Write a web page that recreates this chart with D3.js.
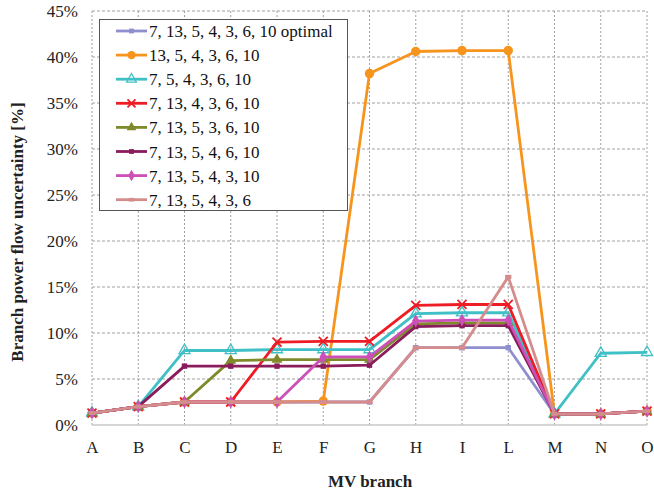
<!DOCTYPE html>
<html><head><meta charset="utf-8">
<script src="https://cdn.jsdelivr.net/npm/d3@7"></script>
<style>body{margin:0;background:#fff}svg{display:block}</style>
</head><body><svg id="c" width="654" height="492" font-family="Liberation Serif"></svg>
<script>
const categories = ["A","B","C","D","E","F","G","H","I","L","M","N","O"];
const yTicks = [0,5,10,15,20,25,30,35,40,45];
const seriesNames = ["7, 13, 5, 4, 3, 6, 10 optimal","13, 5, 4, 3, 6, 10","7, 5, 4, 3, 6, 10","7, 13, 4, 3, 6, 10","7, 13, 5, 3, 6, 10","7, 13, 5, 4, 6, 10","7, 13, 5, 4, 3, 10","7, 13, 5, 4, 3, 6"];
const seriesColors = ["#8f8fd0","#f7941d","#3fc0c6","#ee1c25","#7f8a2a","#8b1c5c","#cc50b8","#d48c8c"];
const seriesMarkers = ["square","circle","triangleOpen","cross","triangle","square","diamond","dash"];
const sOptimal = [1.3,2.0,2.5,2.5,2.5,2.5,2.5,8.4,8.4,8.4,1.2,1.2,1.5];
const s13 = [1.3,2.0,2.5,2.5,2.5,2.6,38.2,40.6,40.7,40.7,1.2,1.2,1.5];
const s7_5 = [1.3,2.0,8.1,8.1,8.2,8.2,8.2,12.1,12.2,12.2,1.2,7.8,7.9];
const s7_13_4 = [1.3,2.0,2.5,2.5,9.0,9.1,9.1,13.0,13.1,13.1,1.2,1.2,1.5];
const s7_13_5_3 = [1.3,2.0,2.5,7.0,7.1,7.1,7.1,11.0,11.1,11.1,1.2,1.2,1.5];
const s7_13_5_4_6 = [1.3,2.0,6.4,6.4,6.4,6.4,6.5,10.7,10.8,10.8,1.2,1.2,1.5];
const s7_13_5_4_3_10 = [1.3,2.0,2.5,2.5,2.5,7.4,7.4,11.3,11.4,11.4,1.2,1.2,1.5];
const s7_13_5_4_3_6 = [1.3,2.0,2.5,2.5,2.5,2.5,2.5,8.4,8.4,16.1,1.2,1.2,1.5];
const seriesValues = [sOptimal,s13,s7_5,s7_13_4,s7_13_5_3,s7_13_5_4_6,s7_13_5_4_3_10,s7_13_5_4_3_6];

const FONT = "Liberation Serif";
const svg = d3.select("#c");
const L=92,R=647,T=11,B=425;
const x = d3.scalePoint().domain(categories).range([L,R]).padding(0);
const y = d3.scaleLinear().domain([0,45]).range([B,T]);

// grid
const g = svg.append("g");
g.selectAll("line.h").data(yTicks.filter(d=>d>0)).join("line")
 .attr("x1",L).attr("x2",R).attr("y1",d=>y(d)).attr("y2",d=>y(d))
 .attr("stroke","#a0a0a0").attr("stroke-width",1).attr("stroke-dasharray","3,2");
g.selectAll("line.v").data(categories).join("line")
 .attr("x1",d=>x(d)).attr("x2",d=>x(d)).attr("y1",T).attr("y2",B)
 .attr("stroke","#a0a0a0").attr("stroke-width",1).attr("stroke-dasharray","2,2");
svg.append("line").attr("x1",L).attr("x2",R).attr("y1",B).attr("y2",B).attr("stroke","#c8c8c8").attr("stroke-width",1.5);

const yAxis = d3.axisLeft(y).tickValues(yTicks).tickFormat(d=>d+"%").tickSize(0).tickPadding(14);
const ya = svg.append("g").attr("transform",`translate(${L},0)`).call(yAxis).attr("font-family",FONT).attr("font-size",17);
ya.select(".domain").remove();
ya.selectAll("text").attr("fill","#222");
const xAxis = d3.axisBottom(x).tickSize(0).tickPadding(16);
const xa = svg.append("g").attr("transform",`translate(0,${B})`).call(xAxis).attr("font-family",FONT).attr("font-size",17);
xa.select(".domain").remove();
xa.selectAll("text").attr("fill","#222");

svg.append("text").attr("x",370).attr("y",487).attr("text-anchor","middle").attr("font-family",FONT)
 .attr("font-size",17).attr("font-weight","bold").attr("fill","#222").text("MV branch");
svg.append("text").attr("transform","translate(23,232) rotate(-90)").attr("text-anchor","middle").attr("font-family",FONT)
 .attr("font-size",17).attr("font-weight","bold").attr("fill","#222").text("Branch power flow uncertainty  [%]");

function drawMarker(sel, type, color, size){
  const s=size;
  if(type==="square") sel.append("rect").attr("x",-s*0.6).attr("y",-s*0.6).attr("width",s*1.2).attr("height",s*1.2).attr("fill",color);
  else if(type==="circle") sel.append("circle").attr("r",s*1.05).attr("fill",color);
  else if(type==="triangleOpen") sel.append("path").attr("d",d3.symbol(d3.symbolTriangle,s*s*2.6)()).attr("fill","none").attr("stroke",color).attr("stroke-width",1.3);
  else if(type==="triangle") sel.append("path").attr("d",d3.symbol(d3.symbolTriangle,s*s*2.6)()).attr("fill",color);
  else if(type==="cross") sel.append("path").attr("d",`M${-s},${-s}L${s},${s}M${-s},${s}L${s},${-s}`).attr("stroke",color).attr("stroke-width",1.8);
  else if(type==="diamond") sel.append("path").attr("d",d3.symbol(d3.symbolDiamond,s*s*2.4)()).attr("fill",color);
  else if(type==="dash") sel.append("rect").attr("x",-s*0.7).attr("y",-s*0.45).attr("width",s*1.4).attr("height",s*0.9).attr("fill",color);
}

const line = d3.line().x((d,i)=>x(categories[i])).y(d=>y(d));
seriesValues.forEach((vals,k)=>{
  const c=seriesColors[k];
  const sg = svg.append("g");
  sg.append("path").datum(vals).attr("d",line).attr("fill","none").attr("stroke",c).attr("stroke-width",2.8).attr("stroke-linejoin","round");
  vals.forEach((v,i)=>{
    const mg = sg.append("g").attr("transform",`translate(${x(categories[i])},${y(v)})`);
    drawMarker(mg, seriesMarkers[k], c, 4.5);
  });
});

const lg = svg.append("g");
lg.append("rect").attr("x",99.5).attr("y",19.5).attr("width",248).attr("height",191).attr("fill","#fff").attr("stroke","#555").attr("stroke-width",1);
seriesNames.forEach((n,k)=>{
  const yy = 31 + k*24.1;
  const c=seriesColors[k];
  lg.append("line").attr("x1",116).attr("x2",147).attr("y1",yy).attr("y2",yy).attr("stroke",c).attr("stroke-width",2.8);
  const mg=lg.append("g").attr("transform",`translate(131.5,${yy})`);
  drawMarker(mg, seriesMarkers[k], c, 4);
  lg.append("text").attr("x",149).attr("y",yy+6).attr("font-family",FONT).attr("font-size",17).attr("fill","#111").text(n);
});
</script></body></html>
